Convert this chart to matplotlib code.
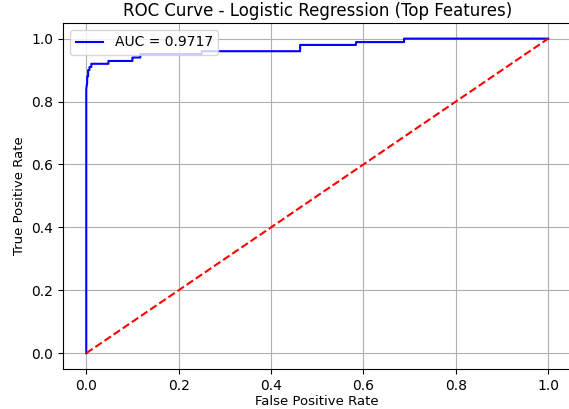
import matplotlib
matplotlib.use("Agg")
import matplotlib.pyplot as plt

# ROC points
fpr = [0.0, 0.0, 0.002, 0.002, 0.004, 0.004, 0.007, 0.007, 0.011, 0.011,
       0.048, 0.048, 0.10, 0.10, 0.117, 0.117, 0.25, 0.25, 0.463, 0.463,
       0.584, 0.584, 0.688, 0.688, 1.0]
tpr = [0.0, 0.84, 0.86, 0.88, 0.88, 0.90, 0.90, 0.91, 0.91, 0.92,
       0.92, 0.929, 0.929, 0.94, 0.94, 0.951, 0.951, 0.96, 0.96, 0.98,
       0.98, 0.989, 0.989, 1.0, 1.0]
auc_label = "AUC = 0.9717"
chance = [0, 1]

fig = plt.figure(figsize=(5.69, 4.09), dpi=100)
ax = fig.add_axes([0.111, 0.098, 0.893, 0.846])

ax.plot(fpr, tpr, color="blue", label=auc_label)
ax.plot(chance, chance, "r--")
ax.set_xlabel("False Positive Rate", fontsize=9.5, labelpad=2)
ax.set_ylabel("True Positive Rate", fontsize=9.5)
ax.set_title("ROC Curve - Logistic Regression (Top Features)", pad=5)
ax.legend(loc="upper left")
ax.grid(True)

fig.savefig("out.png", dpi=100)
